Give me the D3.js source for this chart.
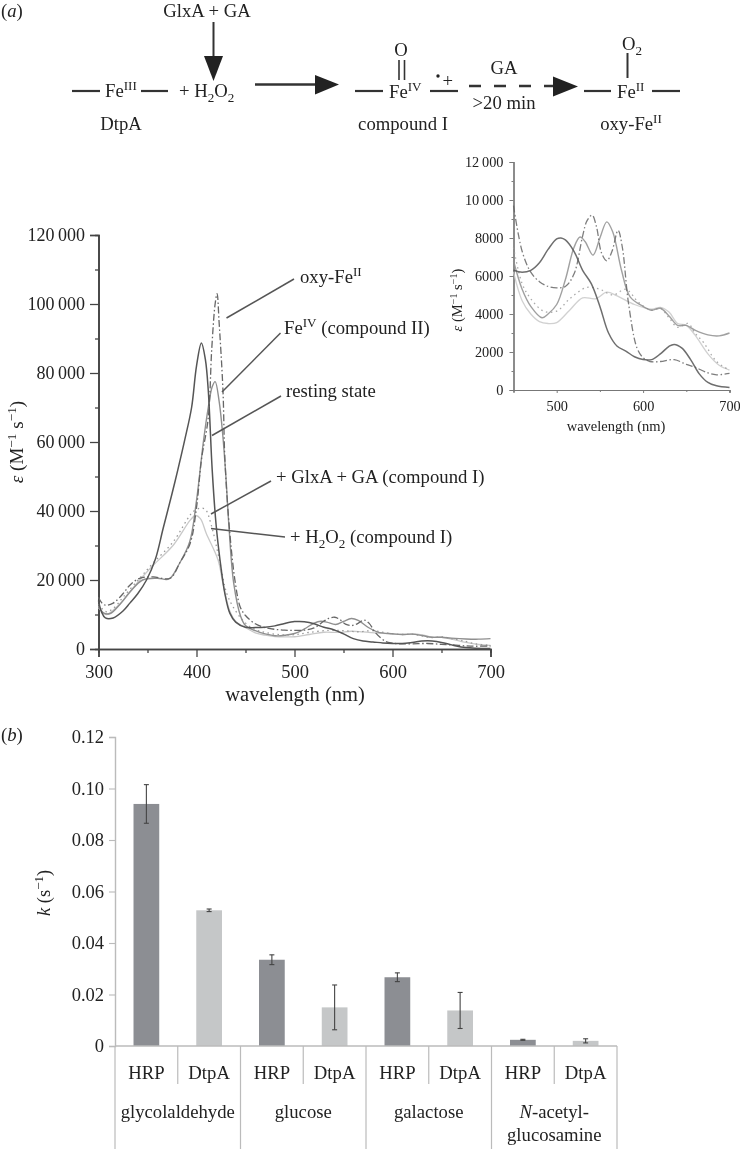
<!DOCTYPE html>
<html><head><meta charset="utf-8">
<style>html,body{margin:0;padding:0;background:#fff}svg{display:block;filter:blur(0.35px)}text{font-family:"Liberation Serif",serif;fill:#222}</style>
<script src="https://cdnjs.cloudflare.com/ajax/libs/d3/7.8.5/d3.min.js"></script>
</head><body><svg id="c" width="740" height="1150"></svg>
<script>
// ---- spectra: [wavelength nm, epsilon]
const restingState=[[300,14000],[303,10800],[307,9000],[315,9000],[325,11000],[332,13300],[340,16000],[349,20000],[358,26000],[366,35000],[375,45000],[381,52000],[388,60600],[395,70000],[400,82000],[405,88700],[409,84000],[412,75000],[416,52000],[420,36000],[424,25800],[429,16000],[434,10400],[440,7800],[450,6300],[460,6200],[470,6300],[480,6700],[490,7400],[500,7950],[505,8000],[510,7900],[520,7300],[530,6300],[540,5600],[550,4400],[560,3000],[570,2300],[580,2050],[590,1750],[600,1600],[610,1600],[620,1900],[630,2300],[636,2400],[645,2200],[655,1600],[665,850],[675,400],[685,220],[700,130]];
const compoundII=[[300,12500],[305,10500],[312,10300],[322,13000],[332,16500],[345,20000],[360,20500],[372,20300],[383,25000],[393,31000],[400,43000],[407,60000],[412,70000],[416,76000],[419,77500],[423,72000],[427,61400],[430,50000],[433,36000],[438,19000],[445,9500],[450,6800],[460,5300],[470,4400],[483,3800],[490,4000],[500,4500],[510,5800],[520,7500],[527,8050],[533,7800],[542,7100],[550,8000],[558,8850],[565,8300],[575,6300],[585,4900],[600,4400],[610,4200],[620,4300],[630,3900],[640,3400],[650,3400],[660,3150],[675,2900],[688,2850],[700,3000]];
const hydrogenPeroxide=[[300,12000],[308,10000],[316,11500],[325,14000],[342,20000],[356,24300],[376,30000],[394,37500],[399,38700],[404,37800],[410,33500],[422,25800],[427,19000],[434,11000],[440,8000],[450,6200],[460,4700],[470,4000],[480,3600],[490,3500],[500,3550],[515,4200],[530,4850],[545,4800],[558,5150],[570,4950],[590,4500],[610,4250],[620,4350],[630,4100],[640,3500],[650,3400],[660,2900],[675,1900],[688,1300],[700,1050]];
const glxaGa=[[300,13000],[308,10800],[316,12000],[325,15000],[342,20500],[356,25000],[376,31000],[394,39000],[399,40300],[404,40800],[409,40500],[415,36000],[424,25000],[431,16000],[440,11000],[450,7500],[460,5600],[470,4800],[485,4150],[500,4150],[515,4800],[535,5400],[550,5300],[565,5000],[580,5300],[595,4600],[610,4200],[620,4300],[630,3800],[640,3300],[652,3500],[660,3000],[670,2500],[685,1500],[700,1050]];
const oxyFeII=[[300,15000],[303,13500],[307,12700],[315,13300],[325,16000],[332,18500],[342,20500],[356,20900],[373,20500],[383,25000],[393.5,30600],[400,41000],[405,54800],[412,67000],[415.5,86700],[419,100000],[421,103000],[423,95000],[427,75000],[429,54800],[434,33600],[439.6,19200],[444.6,12200],[450,9700],[460,7300],[470,6200],[480,5700],[490,5450],[500,5380],[510,5450],[520,6100],[530,8100],[535,8900],[541,9200],[546,8600],[552,7200],[558,6800],[564,7300],[571,8400],[576,7500],[583,4600],[593,2200],[600,1700],[608,1500],[620,1500],[636,1600],[650,1350],[660,1200],[675,900],[685,800],[700,870]];
// ---- bars
const sugars=["glycolaldehyde","glucose","galactose","N-acetyl-glucosamine"];
const enzymes=["HRP","DtpA"];
const rateValues=[0.094,0.0527,0.0335,0.015,0.0267,0.0138,0.0024,0.002];
const rateErrors=[0.0075,0.0005,0.0019,0.0087,0.0017,0.007,0.0002,0.0008];
const rateTicks=[0,0.02,0.04,0.06,0.08,0.10,0.12];
const mainXTicks=[300,400,500,600,700];
const mainYTicks=[0,20000,40000,60000,80000,100000,120000];
const insetXTicks=[500,600,700];
const insetYTicks=[0,2000,4000,6000,8000,10000,12000];

const svg=d3.select("#c");
const thin=v=>{const s=String(v);return v>=10000?s.slice(0,-3)+"\u2009"+s.slice(-3):s};

function rich(parent,x,y,segs,o={}){
  const size=o.size||16;
  const t=parent.append("text").attr("x",x).attr("y",y).attr("font-size",size).attr("text-anchor",o.anchor||"start");
  if(o.rotate) t.attr("transform",`rotate(${o.rotate} ${x} ${y})`);
  let pending=0;
  (Array.isArray(segs)?segs:[segs]).forEach(s=>{
    if(typeof s==="string") s={t:s};
    const ts=t.append("tspan").text(s.t);
    let d=0,fs=size;
    if(s.sup){d=-0.36*size;fs=size*0.7}
    if(s.sub){d=0.28*size;fs=size*0.7}
    if(s.i) ts.attr("font-style","italic");
    ts.attr("font-size",fs).attr("dy",pending+d);
    pending=-d;
  });
  return t;
}
function seg(g,x1,y1,x2,y2,w=2,c="#333",dash){
  const l=g.append("line").attr("x1",x1).attr("y1",y1).attr("x2",x2).attr("y2",y2).attr("stroke",c).attr("stroke-width",w);
  if(dash) l.attr("stroke-dasharray",dash);
}
function head(g,pts){g.append("polygon").attr("points",pts.map(p=>p.join(",")).join(" ")).attr("fill","#222")}

// ---- scheme (a)
const F=18.7;
const sch=svg.append("g");
rich(sch,1,17,["(",{t:"a",i:1},")"],{size:F});
rich(sch,207,17,"GlxA + GA",{size:F,anchor:"middle"});
seg(sch,213.5,22,213.5,60,2);head(sch,[[204,56],[223,56],[213.5,81]]);
seg(sch,72,91,100,91,2.2);rich(sch,105,97,["Fe",{t:"III",sup:1}],{size:F});seg(sch,141,91,168,91,2.2);
rich(sch,179,97,["+ H",{t:"2",sub:1},"O",{t:"2",sub:1}],{size:F});
rich(sch,121,130,"DtpA",{size:F,anchor:"middle"});
seg(sch,255,84.5,318,84.5,2.4);head(sch,[[315,75],[315,94.5],[339,84.5]]);
seg(sch,355,91,383,91,2.2);rich(sch,389,98,["Fe",{t:"IV",sup:1}],{size:F});
rich(sch,401,56,"O",{size:F,anchor:"middle"});seg(sch,399,60,399,80,1.6);seg(sch,404.5,60,404.5,80,1.6);
seg(sch,430,91,458,91,2.2);sch.append("circle").attr("cx",438).attr("cy",76).attr("r",1.7).attr("fill","#222");
rich(sch,442.5,87,"+",{size:F});
rich(sch,403,130,"compound I",{size:F,anchor:"middle"});
rich(sch,504,74,"GA",{size:F,anchor:"middle"});
seg(sch,469,86,557,86,2.4,"#333","12 13");head(sch,[[553,76.5],[553,96.5],[578,86.5]]);
rich(sch,504,109,">20 min",{size:F,anchor:"middle"});
seg(sch,584,91,611,91,2.2);rich(sch,617,98,["Fe",{t:"II",sup:1}],{size:F});
rich(sch,622,50,["O",{t:"2",sub:1}],{size:F});seg(sch,627.5,53,627.5,78,2);
seg(sch,652,91,680,91,2.2);
rich(sch,631,130,["oxy-Fe",{t:"II",sup:1}],{size:F,anchor:"middle"});

// ---- spectra
const spectra=[
 {d:hydrogenPeroxide,c:"#c9c9c9",w:1.3},
 {d:glxaGa,c:"#9a9a9a",w:1.3,dash:"1.5 3.5"},
 {d:compoundII,c:"#8f8f8f",w:1.4},
 {d:oxyFeII,c:"#666",w:1.3,dash:"7 2.5 1.5 2.5"},
 {d:restingState,c:"#555",w:1.5}
];
function drawSpectra(g,x,y,minW,op){
  const line=d3.line().x(d=>x(d[0])).y(d=>y(d[1])).curve(d3.curveCatmullRom.alpha(0.5));
  g.selectAll(null).data(spectra).join("path").attr("fill","none")
   .attr("d",s=>line(s.d.filter(p=>p[0]>=minW))).attr("stroke",s=>s.c).attr("stroke-width",s=>s.w)
   .attr("stroke-dasharray",s=>s.dash||null).attr("opacity",op);
}
function styleAxis(g,c,w){g.select(".domain").attr("stroke",c).attr("stroke-width",w);g.selectAll("line").attr("stroke",c).attr("stroke-width",w*0.8)}

const main=svg.append("g");
const mx=d3.scaleLinear().domain([300,700]).range([98.5,490.5]);
const my=d3.scaleLinear().domain([0,120000]).range([649,235]);
const mMinorY=d3.range(10000,120000,20000), mMinorX=d3.range(350,700,100);
main.append("g").attr("transform","translate(98.5,0)").call(d3.axisLeft(my).tickSizeOuter(0).tickSize(3.5).tickValues(mMinorY).tickFormat("")).call(g=>styleAxis(g,"#444",1.6));
main.append("g").attr("transform","translate(0,649)").call(d3.axisBottom(mx).tickSizeOuter(0).tickSize(4).tickValues(mMinorX).tickFormat("")).call(g=>styleAxis(g,"#444",1.6));
const may=main.append("g").attr("transform","translate(98.5,0)").call(d3.axisLeft(my).tickSizeOuter(0).tickSize(8.5).tickPadding(5).tickValues(mainYTicks).tickFormat(thin)).call(g=>styleAxis(g,"#444",1.6));
may.selectAll("text").attr("font-size",18).attr("font-family","Liberation Serif").attr("fill","#222");
const max=main.append("g").attr("transform","translate(0,649)").call(d3.axisBottom(mx).tickSizeOuter(0).tickSize(8).tickPadding(8).tickValues(mainXTicks).tickFormat(d=>d)).call(g=>styleAxis(g,"#444",1.6));
max.selectAll("text").attr("font-size",18.5).attr("font-family","Liberation Serif").attr("fill","#222");
drawSpectra(main,mx,my,300,1);
rich(main,295,701,"wavelength (nm)",{size:20.5,anchor:"middle"});
rich(main,23,442,[{t:"ε",i:1}," (M",{t:"−1",sup:1}," s",{t:"−1",sup:1},")"],{size:19,anchor:"middle",rotate:-90});

const leaders=[[226.5,318,294,279],[222,392,280.5,333],[212,435.5,281,396],[211,514,271,481],[211,528.5,285,537]];
leaders.forEach(l=>seg(main,l[0],l[1],l[2],l[3],1.5,"#555"));
rich(main,300,283,["oxy-Fe",{t:"II",sup:1}],{size:F});
rich(main,284,334,["Fe",{t:"IV",sup:1}," (compound II)"],{size:F});
rich(main,286,397,"resting state",{size:F});
rich(main,276,483,"+ GlxA + GA (compound I)",{size:F});
rich(main,290,543,["+ H",{t:"2",sub:1},"O",{t:"2",sub:1}," (compound I)"],{size:F});

// ---- inset
const ins=svg.append("g");
const ix=d3.scaleLinear().domain([450,700]).range([513.5,729.5]);
const iy=d3.scaleLinear().domain([0,12000]).range([390,162]);
ins.append("g").attr("transform","translate(513.5,0)").call(d3.axisLeft(iy).tickSizeOuter(0).tickSize(2).tickValues(d3.range(1000,12000,2000)).tickFormat("")).call(g=>styleAxis(g,"#777",1.2));
ins.append("g").attr("transform","translate(0,390)").call(d3.axisBottom(ix).tickSizeOuter(0).tickSize(2).tickValues([550,650]).tickFormat("")).call(g=>styleAxis(g,"#777",1.2));
const iay=ins.append("g").attr("transform","translate(513.5,0)").call(d3.axisLeft(iy).tickSizeOuter(0).tickSize(4).tickPadding(6).tickValues(insetYTicks).tickFormat(thin)).call(g=>styleAxis(g,"#777",1.2));
iay.selectAll("text").attr("font-size",14.3).attr("font-family","Liberation Serif").attr("fill","#222");
const iax=ins.append("g").attr("transform","translate(0,390)").call(d3.axisBottom(ix).tickSizeOuter(0).tickSize(3).tickPadding(8).tickValues(insetXTicks).tickFormat(d=>d)).call(g=>styleAxis(g,"#777",1.2));
iax.selectAll("text").attr("font-size",14.3).attr("font-family","Liberation Serif").attr("fill","#222");
drawSpectra(ins,ix,iy,450,0.85);
rich(ins,616,431,"wavelength (nm)",{size:14.5,anchor:"middle"});
rich(ins,462,300,[{t:"ε",i:1}," (M",{t:"−1",sup:1}," s",{t:"−1",sup:1},")"],{size:14.5,anchor:"middle",rotate:-90});

// ---- bars (b)
const bars=svg.append("g");
rich(bars,1,741,["(",{t:"b",i:1},")"],{size:F});
const labels=sugars.flatMap(s=>enzymes.map(e=>s+"|"+e));
const bx=d3.scaleBand().domain(labels).range([115,617]).paddingInner(0.59).paddingOuter(0.295);
const by=d3.scaleLinear().domain([0,0.12]).range([1046,737]);
const step=bx.step();
const bay=bars.append("g").attr("transform","translate(115,0)").call(d3.axisLeft(by).tickSizeOuter(0).tickSize(6).tickPadding(5).tickValues(rateTicks).tickFormat(d=>d===0?"0":d.toFixed(2)));
styleAxis(bay,"#bbb",1.4);
bay.selectAll("text").attr("font-size",18.5).attr("font-family","Liberation Serif").attr("fill","#222");
bars.selectAll(null).data(labels).join("rect").attr("x",d=>bx(d)).attr("width",bx.bandwidth())
  .attr("y",(d,i)=>by(rateValues[i])).attr("height",(d,i)=>by(0)-by(rateValues[i]))
  .attr("fill",(d,i)=>i%2?"#c5c7c8":"#8c8e93");
const ec="#444";
labels.forEach((d,i)=>{
  const c=bx(d)+bx.bandwidth()/2, t=by(rateValues[i]+rateErrors[i]), b=by(rateValues[i]-rateErrors[i]);
  seg(bars,c,t,c,b,1.1,ec);seg(bars,c-2.5,t,c+2.5,t,1.1,ec);seg(bars,c-2.5,b,c+2.5,b,1.1,ec);
});
seg(bars,115,1046,617,1046,1.4,"#bbb");
d3.range(0,9).forEach(i=>{
  const x=115+i*step;
  seg(bars,x,1046,x,i%2?1084:1149,1.2,"#bbb");
});
labels.forEach(d=>{
  rich(bars,bx(d)+bx.bandwidth()/2,1079,d.split("|")[1],{size:F,anchor:"middle"});
});
const groupCenter=i=>115+(i*2+1)*step;
rich(bars,groupCenter(0),1118,sugars[0],{size:F,anchor:"middle"});
rich(bars,groupCenter(1),1118,sugars[1],{size:F,anchor:"middle"});
rich(bars,groupCenter(2),1118,sugars[2],{size:F,anchor:"middle"});
rich(bars,groupCenter(3),1118,[{t:"N",i:1},"-acetyl-"],{size:F,anchor:"middle"});
rich(bars,groupCenter(3),1141,"glucosamine",{size:F,anchor:"middle"});
rich(bars,50,893,[{t:"k",i:1}," (s",{t:"−1",sup:1},")"],{size:18.5,anchor:"middle",rotate:-90});
</script></body></html>
